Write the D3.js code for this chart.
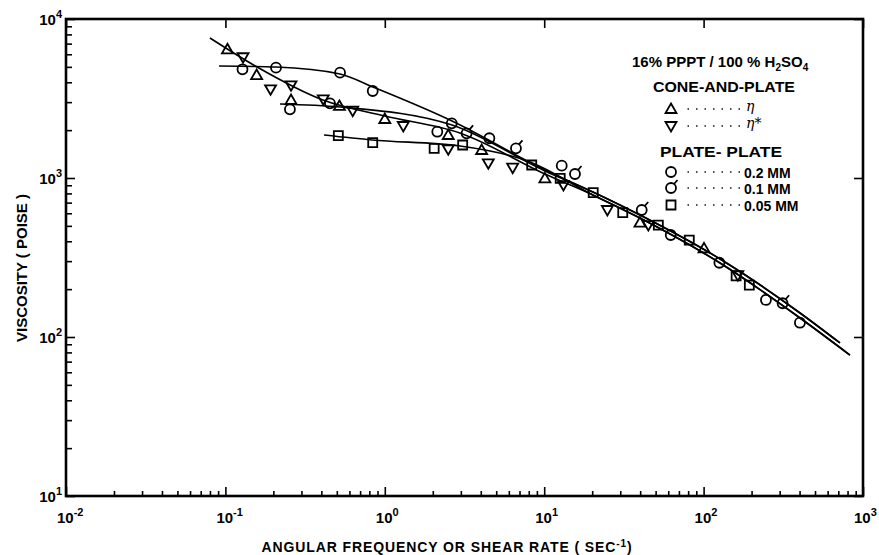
<!DOCTYPE html>
<html>
<head>
<meta charset="utf-8">
<script src="https://cdn.jsdelivr.net/npm/d3@7"></script>
<style>
body { margin: 0; background: #fff; }
svg text { font-family: "Liberation Sans", Arial, sans-serif; font-weight: bold; fill: #000; }
</style>
</head>
<body>
<svg id="chart" width="879" height="555"></svg>
<script>
// tick labels
var xDecades = [0.01, 0.1, 1, 10, 100, 1000];
var xExps = ["-2", "-1", "0", "1", "2", "3"];
var yDecades = [10, 100, 1000, 10000];
var yExps = ["1", "2", "3", "4"];

// cone-and-plate, eta
var etaX = [0.103, 0.157, 0.258, 0.519, 1.0, 2.5, 4.05, 10.1, 39.9, 100.6];
var etaY = [6450, 4440, 3095, 2838, 2350, 1864, 1500, 995, 524, 361];
// cone-and-plate, eta*
var etaStarX = [0.129, 0.192, 0.258, 0.411, 0.629, 1.306, 2.5, 4.46, 6.34, 13.2, 24.9, 45.0, 164];
var etaStarY = [5745, 3613, 3829, 3126, 2651, 2124, 1515, 1237, 1161, 903, 629, 506, 245];
// plate-plate 0.2 mm
var gap02X = [0.128, 0.2077, 0.254, 0.524, 0.840, 0.453, 2.135, 2.63, 4.53, 12.88, 62.2, 125.6, 246, 402];
var gap02Y = [4827, 4942, 2704, 4596, 3525, 2950, 1955, 2208, 1778, 1195, 438, 293, 171, 123];
// plate-plate 0.1 mm
var gap01X = [3.26, 6.65, 15.6, 40.9, 313];
var gap01Y = [1910, 1537, 1060, 629, 163];
// plate-plate 0.05 mm
var gap005X = [0.511, 0.840, 2.04, 3.08, 8.35, 12.6, 20.3, 31.1, 52.0, 81.3, 160, 193.6];
var gap005Y = [1845, 1667, 1537, 1613, 1207, 995, 808, 605, 506, 407, 242, 212];

// hand-drawn curves
var fitEta = [[0.080, 7594], [0.158, 4990], [0.409, 3095], [1.0, 2455], [2.96, 1918], [10.1, 1060], [20.2, 782], [39.9, 560], [126.8, 292], [402.7, 131.7], [828, 77]];
var fit02 = [[0.0912, 5062], [0.2077, 4990], [0.524, 4510], [0.843, 3735], [2.64, 2284], [10.1, 1123], [20.2, 817], [39.9, 585], [126.8, 309.5], [402.7, 141.6], [717, 91.7]];
var fit01 = [[0.22, 2920], [0.524, 2796], [2.64, 2154], [10.1, 1107], [20.2, 817], [39.9, 585], [126.8, 309.5], [402.7, 141.6], [717, 91.7]];
var fit005 = [[0.4155, 1864], [0.8315, 1734], [2.96, 1590], [8.15, 1261], [20.2, 782], [39.9, 560], [126.8, 292], [402.7, 131.7], [828, 77]];

var svg = d3.select("#chart");
var pLeft = 66, pRight = 863, pTop = 19, pBottom = 496;

var x = d3.scaleLog().domain([0.01, 1000]).range([pLeft, pRight]);
var y = d3.scaleLog().domain([10, 10000]).range([pBottom, pTop]);

function minors(decs) {
	var out = [];
	decs.slice(0, -1).forEach(function(d) {
		for (var k = 2; k <= 9; k++) out.push(d * k);
	});
	return out;
}

// ticks, all pointing inward
svg.append("g").attr("transform", "translate(0," + pBottom + ")")
	.call(d3.axisBottom(x).tickValues(minors(xDecades)).tickSize(-5).tickSizeOuter(0).tickFormat(""));
svg.append("g").attr("transform", "translate(0," + pBottom + ")")
	.call(d3.axisBottom(x).tickValues(xDecades).tickSize(-9).tickSizeOuter(0).tickFormat(""));
svg.append("g").attr("transform", "translate(0," + pTop + ")")
	.call(d3.axisTop(x).tickValues(xDecades).tickSize(-9).tickSizeOuter(0).tickFormat(""));
svg.append("g").attr("transform", "translate(" + pLeft + ",0)")
	.call(d3.axisLeft(y).tickValues(minors(yDecades)).tickSize(-6).tickSizeOuter(0).tickFormat(""));
svg.append("g").attr("transform", "translate(" + pLeft + ",0)")
	.call(d3.axisLeft(y).tickValues(yDecades).tickSize(-9).tickSizeOuter(0).tickFormat(""));
svg.append("g").attr("transform", "translate(" + pRight + ",0)")
	.call(d3.axisRight(y).tickValues(yDecades).tickSize(-9).tickSizeOuter(0).tickFormat(""));
svg.selectAll(".tick line").attr("stroke", "#000").attr("stroke-width", 1.6);
svg.selectAll(".domain").remove();

svg.append("rect")
	.attr("x", pLeft).attr("y", pTop)
	.attr("width", pRight - pLeft).attr("height", pBottom - pTop)
	.attr("fill", "none").attr("stroke", "#000").attr("stroke-width", 2.6);

// decade labels
xDecades.forEach(function(d, i) {
	var t = svg.append("text").attr("x", x(d) - 9).attr("y", 523).style("font-size", "15px");
	t.append("tspan").text("10");
	t.append("tspan").attr("dy", -7).style("font-size", "11px").text(xExps[i]);
});
yDecades.forEach(function(d, i) {
	var t = svg.append("text").attr("x", 62).attr("y", y(d) + 6)
		.attr("text-anchor", "end").style("font-size", "15px");
	t.append("tspan").text("10");
	t.append("tspan").attr("dy", -7).style("font-size", "11px").text(yExps[i]);
});

var xt = svg.append("text").attr("x", 447).attr("y", 552).attr("text-anchor", "middle")
	.style("font-size", "14px").style("letter-spacing", "0.9px");
xt.append("tspan").text("ANGULAR  FREQUENCY  OR  SHEAR  RATE  ( SEC");
xt.append("tspan").attr("dy", -5).style("font-size", "10px").text("-1");
xt.append("tspan").attr("dy", 5).text(")");

svg.append("text").attr("transform", "translate(27,268) rotate(-90)").attr("text-anchor", "middle")
	.style("font-size", "14px").attr("textLength", 148).attr("lengthAdjust", "spacingAndGlyphs")
	.text("VISCOSITY  ( POISE )");

// curves
var line = d3.line()
	.x(function(d) { return x(d[0]); })
	.y(function(d) { return y(d[1]); })
	.curve(d3.curveMonotoneX);

svg.append("g").selectAll("path")
	.data([fitEta, fit02, fit01, fit005])
	.enter().append("path")
	.attr("d", line)
	.attr("fill", "none").attr("stroke", "#000").attr("stroke-width", 1.6);

// markers
var shapes = {
	up: "M0,-5.5L5.5,4L-5.5,4Z",
	down: "M0,5.5L5.5,-4L-5.5,-4Z",
	square: "M-4.5,-4.5H4.5V4.5H-4.5Z",
	circle: "M5,0A5,5 0 1,1 -5,0A5,5 0 1,1 5,0Z",
	tail: "M5,0A5,5 0 1,1 -5,0A5,5 0 1,1 5,0ZM3,-4L6.5,-8"
};

function drawSet(xs, ys, kind) {
	svg.append("g").selectAll("path")
		.data(xs.map(function(v, i) { return [v, ys[i]]; }))
		.enter().append("path")
		.attr("transform", function(d) { return "translate(" + x(d[0]) + "," + y(d[1]) + ")"; })
		.attr("d", shapes[kind])
		.attr("fill", "none").attr("stroke", "#000").attr("stroke-width", 1.8);
}
drawSet(etaX, etaY, "up");
drawSet(etaStarX, etaStarY, "down");
drawSet(gap02X, gap02Y, "circle");
drawSet(gap01X, gap01Y, "tail");
drawSet(gap005X, gap005Y, "square");

// legend
var lg = svg.append("g");
var title = lg.append("text").attr("x", 632).attr("y", 67).style("font-size", "15px");
title.append("tspan").text("16% PPPT / 100 % H");
title.append("tspan").attr("dy", 4).style("font-size", "10px").text("2");
title.append("tspan").attr("dy", -4).text("SO");
title.append("tspan").attr("dy", 4).style("font-size", "10px").text("4");

lg.append("text").attr("x", 653).attr("y", 92).style("font-size", "14px")
	.attr("textLength", 142).attr("lengthAdjust", "spacingAndGlyphs").text("CONE-AND-PLATE");
lg.append("text").attr("x", 660).attr("y", 157).style("font-size", "14px")
	.attr("textLength", 122).attr("lengthAdjust", "spacingAndGlyphs").text("PLATE- PLATE");

var legendRows = [
	{ kind: "up", y: 109, label: "\u03b7" },
	{ kind: "down", y: 126, label: "\u03b7*" },
	{ kind: "circle", y: 172, label: "0.2 MM" },
	{ kind: "tail", y: 188, label: "0.1 MM" },
	{ kind: "square", y: 205, label: "0.05 MM" }
];
legendRows.forEach(function(r) {
	lg.append("path").attr("transform", "translate(671," + r.y + ")")
		.attr("d", shapes[r.kind]).attr("fill", "none").attr("stroke", "#000").attr("stroke-width", 1.8);
	lg.append("line").attr("x1", 688).attr("x2", 742).attr("y1", r.y).attr("y2", r.y)
		.attr("stroke", "#000").attr("stroke-width", 1.3).attr("stroke-linecap", "round")
		.attr("stroke-dasharray", "0.5,8");
	if (r.kind === "up" || r.kind === "down") {
		lg.append("text").attr("x", 746).attr("y", r.y + 2)
			.style("font-family", "'DejaVu Serif', serif").style("font-style", "italic")
			.style("font-weight", "normal").style("font-size", "14px").text(r.label);
	} else {
		lg.append("text").attr("x", 744).attr("y", r.y + 6).style("font-size", "14px").text(r.label);
	}
});
</script>
</body>
</html>
